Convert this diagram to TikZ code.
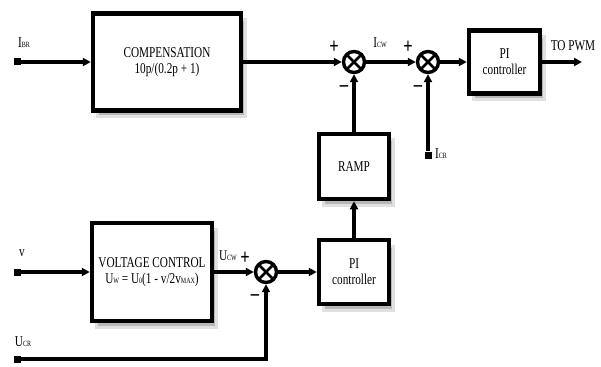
\documentclass[tikz,border=0pt]{standalone}
\usepackage{fontspec}
\setmainfont{Liberation Serif}[FakeStretch=0.75]
\usetikzlibrary{arrows.meta,shadows}

\newcommand{\lo}[1]{{\fontsize{8}{8}\selectfont #1}}

\tikzset{
  block/.style={draw, line width=4.5pt, fill=white, align=center,
    font=\fontsize{15}{16}\selectfont,
    drop shadow={fill=black!28, opacity=1, draw=black!12, line width=3pt,
      shadow xshift=4pt, shadow yshift=-6pt}},
  mixer/.style={draw, circle, line width=3.4pt, minimum size=21pt, inner sep=0pt, fill=white,
    path picture={\draw[line width=2.8pt]
      (path picture bounding box.north west) -- (path picture bounding box.south east)
      (path picture bounding box.north east) -- (path picture bounding box.south west);}},
  port/.style={fill, rectangle, minimum size=7pt, inner sep=0pt},
  sig/.style={line width=3.4pt, -{Triangle[length=8pt,width=8pt]}},
  lbl/.style={font=\fontsize{15}{16}\selectfont, inner sep=0pt},
  sgn/.style={font=\bfseries\fontsize{22}{22}\selectfont, inner sep=0pt}
}

\begin{document}
\begin{tikzpicture}[x=1pt,y=-1pt]
\useasboundingbox (0,0) rectangle (601,366);

% Blocks
\node[block, minimum width=148pt, minimum height=97pt] (comp) at (167,62)
  {COMPENSATION\\10p/(0.2p + 1)};
\node[block, minimum width=71pt, minimum height=63pt] (pitop) at (504.5,62)
  {PI\\controller};
\node[block, minimum width=70pt, minimum height=65pt] (ramp) at (354,166.5) {RAMP};
\node[block, minimum width=70pt, minimum height=64pt] (pibot) at (354,272)
  {PI\\controller};
\node[block, minimum width=120pt, minimum height=98pt] (volt) at (152,272)
  {VOLTAGE CONTROL\\U\lo{W} = U\lo{0}(1 - v/2v\lo{MAX})};

% Summing points
\node[mixer] (sa) at (354,62) {};
\node[mixer] (sb) at (428,62) {};
\node[mixer] (sc) at (266,272) {};

% Inputs and output
\node[port] (ibr) at (17,62) {};
\node[port] (vin) at (17,272) {};
\node[port] (ucr) at (17,359) {};
\node[port] (icr) at (428,155) {};
\coordinate (pwm) at (582,62);

% Signals
\draw[sig] (ibr) -- (comp);
\draw[sig] (comp) -- (sa);
\draw[sig] (sa) -- (sb);
\draw[sig] (sb) -- (pitop);
\draw[sig] (pitop) -- (pwm);
\draw[sig] (icr) -- (sb);
\draw[sig] (ramp) -- (sa);
\draw[sig] (pibot) -- (ramp);
\draw[sig] (vin) -- (volt);
\draw[sig] (volt) -- (sc);
\draw[sig] (sc) -- (pibot);
\draw[sig] (ucr) -| (sc);

% Labels
\node[lbl] at (24,43) {I\lo{BR}};
\node[lbl] at (380,43) {I\lo{CW}};
\node[lbl] at (573,46) {TO PWM};
\node[lbl, anchor=west] at (435,154) {I\lo{CR}};
\node[lbl] at (22,253) {v};
\node[lbl] at (228,256) {U\lo{CW}};
\node[lbl] at (23,342) {U\lo{CR}};

% Signs
\node[sgn] at (334,47) {+};
\node[sgn] at (344,89) {--};
\node[sgn] at (408,47) {+};
\node[sgn] at (418,89) {--};
\node[sgn] at (245,258) {+};
\node[sgn] at (255,298) {--};
\end{tikzpicture}
\end{document}
